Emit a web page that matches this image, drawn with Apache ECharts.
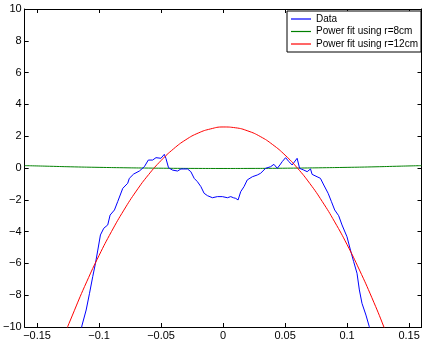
<!DOCTYPE html>
<html>
<head>
<meta charset="utf-8">
<script src="https://cdn.jsdelivr.net/npm/echarts@6/dist/echarts.min.js"></script>
<style>
html,body{margin:0;padding:0;background:#fff;}
#c{width:423px;height:343px;}
</style>
</head>
<body>
<div id="c"></div>
<script>
// ---- data ----
var xTicks = [-0.15, -0.1, -0.05, 0, 0.05, 0.1, 0.15];
var xTickLabels = ['\u22120.15', '\u22120.1', '\u22120.05', '0', '0.05', '0.1', '0.15'];
var yTicks = [-10, -8, -6, -4, -2, 0, 2, 4, 6, 8, 10];
var yTickLabels = ['\u221210', '\u22128', '\u22126', '\u22124', '\u22122', '0', '2', '4', '6', '8', '10'];

var seriesNames = ['Data', 'Power fit using r=8cm', 'Power fit using r=12cm'];

var dataX = [-0.1145, -0.1139, -0.1104, -0.1077, -0.1051, -0.1029, -0.1010, -0.0989, -0.0962, -0.0930,
  -0.0911, -0.0876, -0.0850, -0.0809, -0.0796, -0.0769, -0.0756, -0.0748, -0.0721, -0.0715,
  -0.0675, -0.0635, -0.0603, -0.0568, -0.0541, -0.0501, -0.0474, -0.0461, -0.0440, -0.0408,
  -0.0367, -0.0340, -0.0287, -0.0260, -0.0233, -0.0207, -0.0179, -0.0153, -0.0126, -0.0086,
  -0.0046, -0.0006, 0.0035, 0.0062, 0.0083, 0.0102, 0.0121, 0.0142, 0.0169, 0.0195,
  0.0236, 0.0276, 0.0303, 0.0343, 0.0383, 0.0410, 0.0437, 0.0458, 0.0477, 0.0504,
  0.0531, 0.0557, 0.0597, 0.0617, 0.0651, 0.0678, 0.0705, 0.0718, 0.0758, 0.0785,
  0.0812, 0.0847, 0.0874, 0.0900, 0.0932, 0.0959, 0.0999, 0.1027, 0.1053, 0.1080,
  0.1099, 0.1120, 0.1152, 0.1179, 0.1185];
var dataY = [-10.3, -9.94, -8.93, -7.88, -6.83, -5.99, -5.16, -4.21, -3.79, -3.58,
  -2.96, -2.64, -2.12, -1.28, -1.17, -0.96, -0.65, -0.55, -0.38, -0.33,
  -0.19, 0.08, 0.50, 0.50, 0.65, 0.61, 0.86, 0.61, 0.02, -0.13,
  -0.19, -0.06, -0.06, -0.23, -0.65, -0.86, -1.17, -1.59, -1.74, -1.87,
  -1.80, -1.80, -1.87, -1.80, -1.87, -1.91, -2.01, -1.49, -1.17, -0.75,
  -0.55, -0.44, -0.33, -0.02, 0.08, 0.23, -0.02, 0.19, 0.40, 0.65,
  0.40, 0.19, 0.61, -0.02, -0.13, -0.23, -0.06, -0.40, -0.55, -0.65,
  -1.07, -1.59, -2.12, -2.64, -3.00, -3.58, -4.32, -5.16, -5.89, -6.62,
  -7.67, -8.51, -9.25, -9.98, -10.3];

var fit8X = [-0.16, -0.14, -0.12, -0.10, -0.08, -0.06, -0.04, -0.02, 0, 0.02, 0.04, 0.06, 0.08, 0.10, 0.12, 0.14, 0.16];
var fit8Y = [0.15, 0.11, 0.07, 0.04, 0.015, -0.005, -0.02, -0.027, -0.03, -0.027, -0.02, -0.005, 0.015, 0.04, 0.07, 0.11, 0.15];

var fit12X = [-0.14, -0.13, -0.12, -0.11, -0.10, -0.09, -0.08, -0.07, -0.06, -0.05, -0.04, -0.03, -0.02, -0.01, 0,
  0.01, 0.02, 0.03, 0.04, 0.05, 0.06, 0.07, 0.08, 0.09, 0.10, 0.11, 0.12, 0.13, 0.14];
var fit12Y = [-13.3, -10.95, -8.98, -7.16, -5.50, -4.00, -2.65, -1.45, -0.41, 0.47, 1.20, 1.78, 2.20, 2.46, 2.58,
  2.53, 2.33, 1.98, 1.47, 0.81, -0.01, -0.98, -2.11, -3.39, -4.82, -6.42, -8.16, -10.06, -12.12];

function pairs(xs, ys) { return xs.map(function (x, i) { return [x, ys[i]]; }); }
function labelFor(ticks, labels) {
  return function (v) {
    for (var i = 0; i < ticks.length; i++) if (Math.abs(ticks[i] - v) < 1e-9) return labels[i];
    return '';
  };
}

var font = 'Liberation Sans, Arial, Helvetica, sans-serif';
var axisLine = { show: true, onZero: false, lineStyle: { color: '#000', width: 1 } };
var tick = { show: true, inside: true, length: 4, lineStyle: { color: '#000', width: 1 } };

var chart = echarts.init(document.getElementById('c'), null, { renderer: 'canvas' });
chart.setOption({
  animation: false,
  backgroundColor: '#fff',
  grid: { left: 24, right: 1.5, top: 9, bottom: 16, containLabel: false },
  xAxis: [
    { type: 'value', position: 'bottom', min: -0.16, max: 0.16,
      axisLine: axisLine, splitLine: { show: false },
      axisTick: Object.assign({ customValues: xTicks }, tick),
      axisLabel: { customValues: xTicks, formatter: labelFor(xTicks, xTickLabels), margin: 3,
        color: '#000', fontSize: 11, fontFamily: font } },
    { type: 'value', position: 'top', min: -0.16, max: 0.16,
      axisLine: axisLine, splitLine: { show: false },
      axisTick: Object.assign({ customValues: xTicks }, tick),
      axisLabel: { show: false } }
  ],
  yAxis: [
    { type: 'value', position: 'left', min: -10, max: 10, interval: 2,
      axisLine: axisLine, splitLine: { show: false }, axisTick: tick,
      axisLabel: { formatter: labelFor(yTicks, yTickLabels), margin: 3,
        color: '#000', fontSize: 11, fontFamily: font } },
    { type: 'value', position: 'right', min: -10, max: 10, interval: 2,
      axisLine: axisLine, splitLine: { show: false }, axisTick: tick,
      axisLabel: { show: false } }
  ],
  legend: {
    data: seriesNames,
    orient: 'vertical',
    left: 287, top: 11,
    padding: [2, 3, 2, 4],
    icon: 'rect',
    itemWidth: 20, itemHeight: 1.2, itemGap: 0.5,
    borderColor: '#000', borderWidth: 1, borderRadius: 0,
    backgroundColor: '#fff',
    textStyle: { color: '#000', fontSize: 10, fontFamily: font, lineHeight: 12 }
  },
  series: [
    { name: seriesNames[0], type: 'line', data: pairs(dataX, dataY), symbol: 'none', smooth: false,
      clip: true, lineStyle: { color: '#0000ff', width: 1 }, itemStyle: { color: '#0000ff' }, z: 3 },
    { name: seriesNames[1], type: 'line', data: pairs(fit8X, fit8Y), symbol: 'none', smooth: true,
      clip: true, lineStyle: { color: '#008000', width: 1 }, itemStyle: { color: '#008000' }, z: 2 },
    { name: seriesNames[2], type: 'line', data: pairs(fit12X, fit12Y), symbol: 'none', smooth: true,
      clip: true, lineStyle: { color: '#ff0000', width: 1 }, itemStyle: { color: '#ff0000' }, z: 4 }
  ]
});
</script>
</body>
</html>
